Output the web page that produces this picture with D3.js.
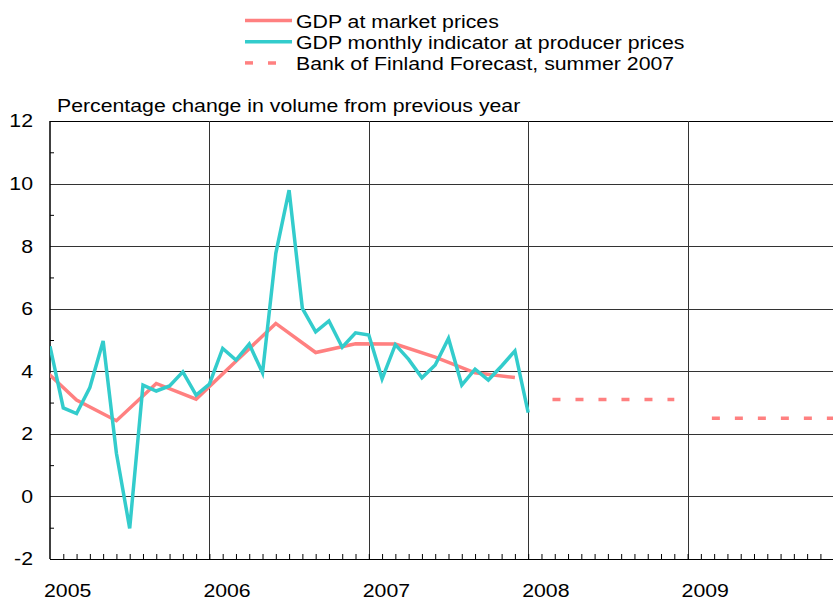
<!DOCTYPE html>
<html>
<head>
<meta charset="utf-8">
<script src="https://cdn.jsdelivr.net/npm/d3@7"></script>
<style>
  body { margin: 0; background: #fff; }
  svg { display: block; font-family: "Liberation Sans", Arial, sans-serif; }
</style>
</head>
<body>
<svg id="chart" width="833" height="602"></svg>
<script>
// monthly indicator, Jan 2005 .. Jan 2008
const indicatorStart = '2005-01';
const indicatorValues = [
  4.80, 2.83, 2.65, 3.48, 4.97, 1.38, -1.02, 3.56, 3.37, 3.53, 3.98, 3.24,
  3.59, 4.73, 4.36, 4.87, 3.95, 7.77, 9.79, 6.01, 5.26, 5.61, 4.77, 5.23,
  5.16, 3.76, 4.85, 4.38, 3.79, 4.20, 5.05, 3.56, 4.07, 3.72, 4.17, 4.65,
  2.68
];

// quarterly GDP at market prices, plotted at quarter end
const gdpMonths = ['2004-12', '2005-03', '2005-06', '2005-09', '2005-12', '2006-03',
  '2006-06', '2006-09', '2006-12', '2007-03', '2007-06', '2007-09', '2007-12'];
const gdpValues = [4.28, 3.08, 2.42, 3.61, 3.11, 4.32, 5.53, 4.60, 4.88, 4.87, 4.45, 3.95, 3.80];

// forecast, annual
const forecastYears = [2008, 2009];
const forecastValues = [3.1, 2.5];

const years = [2005, 2006, 2007, 2008, 2009];
const yTicks = [-2, 0, 2, 4, 6, 8, 10, 12];
const yMinor = [-1, 1, 3, 5, 7, 9, 11];

const seriesNames = ['GDP at market prices', 'GDP monthly indicator at producer prices',
  'Bank of Finland Forecast, summer 2007'];

const red = '#ff8080';
const cyan = '#33cccc';
const SX = 1.15; // source text is a bit wide
const fontSize = 18.5;

const width = 833;
const margin = { left: 50, top: 121, bottom: 559 };
const monthPx = 13.283;

// month index counted from Jan 2005
const monthIndex = s => {
  const [yy, mm] = s.split('-').map(Number);
  return (yy - 2005) * 12 + (mm - 1);
};

const x = d3.scaleLinear().domain([0, 60]).range([margin.left, margin.left + 60 * monthPx]);
const y = d3.scaleLinear().domain([-2, 12]).range([margin.bottom, margin.top]);

const svg = d3.select('#chart');

const stretch = (sel, dx = 0) => {
  sel.each(function() {
    const t = d3.select(this);
    const tx = (+t.attr('x') || 0) + dx;
    const ty = +t.attr('y') || 0;
    t.attr('x', 0).attr('y', 0)
      .attr('transform', `translate(${tx},${ty}) scale(${SX},1)`);
  });
};

svg.append('clipPath').attr('id', 'plot-clip')
  .append('rect')
  .attr('x', margin.left).attr('y', margin.top - 5)
  .attr('width', width - margin.left).attr('height', margin.bottom - margin.top + 10);

// horizontal grid
const yGrid = svg.append('g')
  .attr('transform', `translate(${margin.left},0)`)
  .call(d3.axisLeft(y).tickValues(yTicks).tickSize(-(width - margin.left)).tickFormat(''));
yGrid.select('.domain').remove();
yGrid.selectAll('line').attr('stroke', '#333').attr('shape-rendering', 'crispEdges');
yGrid.selectAll('.tick').filter(d => d === 12 || d === -2).select('line')
  .attr('stroke', '#000').attr('stroke-width', 1.5);

// vertical grid at year starts
const xGrid = svg.append('g')
  .attr('transform', `translate(0,${margin.bottom})`)
  .call(d3.axisBottom(x).tickValues(years.slice(1).map(yr => (yr - 2005) * 12))
    .tickSize(-(margin.bottom - margin.top)).tickFormat(''));
xGrid.select('.domain').remove();
xGrid.selectAll('line').attr('stroke', '#333').attr('shape-rendering', 'crispEdges');

// monthly ticks
const xMinor = svg.append('g')
  .attr('transform', `translate(0,${margin.bottom})`)
  .call(d3.axisBottom(x).tickValues(d3.range(1, 60)).tickSize(-5).tickSizeOuter(0).tickFormat(''));
xMinor.select('.domain').remove();
xMinor.selectAll('line').attr('stroke', '#000');

// y minor ticks
const yMin = svg.append('g')
  .attr('transform', `translate(${margin.left},0)`)
  .call(d3.axisLeft(y).tickValues(yMinor).tickSize(-4).tickFormat(''));
yMin.select('.domain').remove();
yMin.selectAll('line').attr('stroke', '#000');

// left axis line
svg.append('line')
  .attr('x1', margin.left).attr('x2', margin.left)
  .attr('y1', margin.top).attr('y2', margin.bottom)
  .attr('stroke', '#000').attr('stroke-width', 1.5);

// y labels
const yLab = svg.append('g')
  .attr('transform', `translate(${margin.left},0)`)
  .call(d3.axisLeft(y).tickValues(yTicks).tickSize(0).tickPadding(17).tickFormat(d => String(d)));
yLab.select('.domain').remove();
yLab.selectAll('text')
  .attr('font-size', fontSize).attr('font-family', null).attr('fill', '#000')
  .call(stretch);

// x labels
const xLab = svg.append('g')
  .attr('transform', `translate(0,${margin.bottom})`)
  .call(d3.axisBottom(x).tickValues(years.map(yr => (yr - 2005) * 12))
    .tickSize(0).tickPadding(0).tickFormat(d => String(2005 + d / 12)));
xLab.select('.domain').remove();
xLab.selectAll('text')
  .attr('font-size', fontSize).attr('font-family', null).attr('fill', '#000')
  .attr('text-anchor', 'start').attr('dy', null)
  .attr('y', 38)
  .call(stretch, -6.5);

// series
const plot = svg.append('g').attr('clip-path', 'url(#plot-clip)');

const line = d3.line().x(d => x(d[0])).y(d => y(d[1]));

const gdpData = gdpMonths.map((m, i) => [monthIndex(m), gdpValues[i]]);
plot.append('path')
  .datum(gdpData)
  .attr('d', line)
  .attr('fill', 'none').attr('stroke', red).attr('stroke-width', 3.5)
  .attr('stroke-linejoin', 'miter');

forecastYears.forEach((yr, i) => {
  const m0 = (yr - 2005) * 12;
  plot.append('path')
    .datum([[m0 + 1, forecastValues[i]], [m0 + 11, forecastValues[i]]])
    .attr('d', line)
    .attr('fill', 'none').attr('stroke', red).attr('stroke-width', 3.5)
    .attr('stroke-dasharray', '8 15').attr('stroke-dashoffset', 12);
});

const i0 = monthIndex(indicatorStart);
const indicatorData = indicatorValues.map((v, i) => [i0 + i, v]);
plot.append('path')
  .datum(indicatorData)
  .attr('d', line)
  .attr('fill', 'none').attr('stroke', cyan).attr('stroke-width', 3.5)
  .attr('stroke-linejoin', 'miter');

// title
svg.append('text')
  .attr('x', 57).attr('y', 111.5)
  .attr('font-size', fontSize)
  .text('Percentage change in volume from previous year')
  .call(stretch);

// legend
const legend = svg.append('g').attr('class', 'legend');
const legendStyles = [
  { color: red, dash: null },
  { color: cyan, dash: null },
  { color: red, dash: '8 15' }
];
seriesNames.forEach((name, i) => {
  const base = 28 + i * 21.2;
  const g = legend.append('g');
  g.append('line')
    .attr('x1', 245).attr('x2', legendStyles[i].dash ? 290 : 292)
    .attr('y1', base - 7.5).attr('y2', base - 7.5)
    .attr('stroke', legendStyles[i].color).attr('stroke-width', 3.5)
    .attr('stroke-dasharray', legendStyles[i].dash);
  g.append('text')
    .attr('x', 296).attr('y', base)
    .attr('font-size', fontSize)
    .text(name)
    .call(stretch);
});
</script>
</body>
</html>
